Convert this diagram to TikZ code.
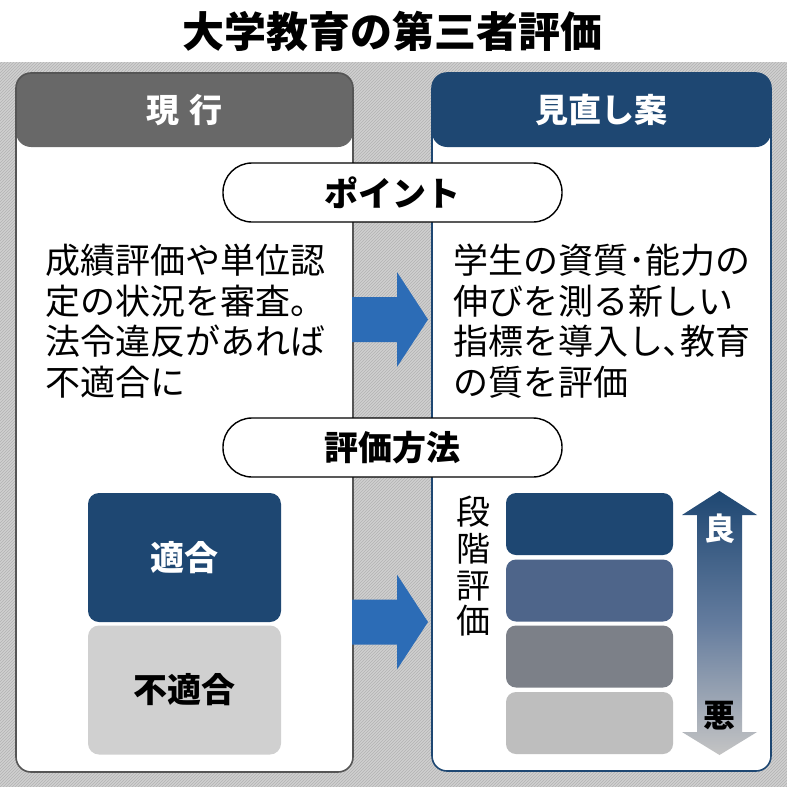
\documentclass[tikz,border=0pt]{standalone}
\usepackage{fontspec}
\setmainfont{Noto Sans CJK JP}
\usetikzlibrary{patterns}
\definecolor{navy}{RGB}{30,71,114}
\definecolor{hdrgray}{RGB}{104,104,104}
\definecolor{panelgray}{RGB}{85,85,85}
\definecolor{bggray}{RGB}{208,208,208}
\definecolor{hatch}{RGB}{178,178,178}
\definecolor{arrowblue}{RGB}{44,108,182}
\definecolor{lvtwo}{RGB}{78,101,138}
\definecolor{lvthree}{RGB}{124,128,136}
\definecolor{lvfour}{RGB}{190,190,190}
\definecolor{ngfill}{RGB}{208,208,208}
\definecolor{midblue}{RGB}{100,124,158}
\definecolor{lowgray}{RGB}{196,196,196}
\tikzset{
  panelbox/.style={fill=white, rounded corners=15pt, inner sep=0pt, line width=1.6pt},
  hdrtext/.style={text=white, font=\bfseries\fontsize{33}{33}\selectfont, inner sep=0pt},
  pillbox/.style={draw=black, fill=white, line width=1.4pt, rounded corners=29pt,
    minimum width=339pt, minimum height=59pt, inner sep=0pt,
    font=\bfseries\fontsize{34}{34}\selectfont},
  bodytext/.style={font=\fontsize{35}{41}\selectfont, inner sep=0pt, anchor=base west},
  gradebox/.style={rounded corners=10pt, minimum width=167pt, minimum height=62pt, inner sep=0pt},
  bigbox/.style={rounded corners=11pt, minimum width=193pt, minimum height=129pt, inner sep=0pt,
    font=\bfseries\fontsize{34}{34}\selectfont},
  vtext/.style={font=\fontsize{34}{34}\selectfont, inner sep=0pt, anchor=base},
  blockarrow/.style={fill=arrowblue}
}
\begin{document}
\begin{tikzpicture}[x=1pt,y=-1pt]
\useasboundingbox (0,0) rectangle (787,787);
\fill[white] (0,0) rectangle (787,787);
% hatched background
\fill[bggray] (0,62) rectangle (787,787);
\fill[pattern=north east lines, pattern color=hatch] (0,62) rectangle (787,787);

% title
\node[font=\bfseries\fontsize{42}{42}\selectfont, inner sep=0pt] (title) at (392,31) {大学教育の第三者評価};

% panels
\node[panelbox, draw=panelgray, minimum width=337pt, minimum height=699pt,
  path picture={\fill[hdrgray] (path picture bounding box.north west) rectangle ([yshift=-74pt]path picture bounding box.north east);}]
  (left) at (184.5,422.5) {};
\node[panelbox, draw=navy, minimum width=339pt, minimum height=698pt,
  path picture={\fill[navy] (path picture bounding box.north west) rectangle ([yshift=-74pt]path picture bounding box.north east);}]
  (right) at (601.5,422) {};

\node[hdrtext] (lhead) at (184.5,110) {現\hspace{10pt}行};
\node[hdrtext] (rhead) at (601.5,110) {見直し案};

% block arrows
\coordinate (a1) at (352,319.5);
\coordinate (a2) at (352,622);
\fill[blockarrow] (a1) ++(0,-22.5) -- ++(45,0) -- ++(0,-25) -- (428,319.5) -- (397,367) -- (397,342) -- (352,342) -- cycle;
\fill[blockarrow] (a2) ++(0,-22.5) -- ++(45,0) -- ++(0,-25) -- (428,622) -- (397,669.5) -- (397,644.5) -- (352,644.5) -- cycle;

% pills
\node[pillbox] (point) at (392.5,192.5) {ポイント};
\node[pillbox] (method) at (392.5,447.5) {評価方法};

% body texts
\node[bodytext] (l1) at (45,273.5) {成績評価や単位認};
\node[bodytext] (l2) at (45,314) {定の状況を審査。};
\node[bodytext] (l3) at (45,354.5) {法令違反があれば};
\node[bodytext] (l4) at (45,395) {不適合に};
\node[bodytext] (r1) at (453,273.5) {学生の資質･能力の};
\node[bodytext] (r2) at (453,314) {伸びを測る新しい};
\node[bodytext] (r3) at (453,354.5) {指標を導入し､教育};
\node[bodytext] (r4) at (453,395) {の質を評価};

% left evaluation boxes
\node[bigbox, fill=navy, text=white] (ok) at (184.5,557.5) {適合};
\node[bigbox, fill=ngfill, text=black] (ng) at (184.5,690) {不適合};

% right grade boxes
\node[gradebox, fill=navy] (g1) at (589.5,524) {};
\node[gradebox, fill=lvtwo] (g2) at (589.5,590.5) {};
\node[gradebox, fill=lvthree] (g3) at (589.5,656.5) {};
\node[gradebox, fill=lvfour] (g4) at (589.5,723) {};

% vertical label
\node[vtext] (v1) at (473,524) {段};
\node[vtext] (v2) at (473,561) {階};
\node[vtext] (v3) at (473,598) {評};
\node[vtext] (v4) at (473,633) {価};

% double arrow
\shade[top color=navy, bottom color=lowgray, middle color=midblue]
  (719.5,491) -- (757,515) -- (742,515) -- (742,732) -- (757,732) -- (719.5,755)
  -- (682,732) -- (697,732) -- (697,515) -- (682,515) -- cycle;
\node[font=\bfseries\fontsize{31}{31}\selectfont, text=white, inner sep=0pt] (good) at (720,529) {良};
\node[font=\bfseries\fontsize{32}{32}\selectfont, text=black, inner sep=0pt] (bad) at (719.5,716) {悪};
\end{tikzpicture}
\end{document}
